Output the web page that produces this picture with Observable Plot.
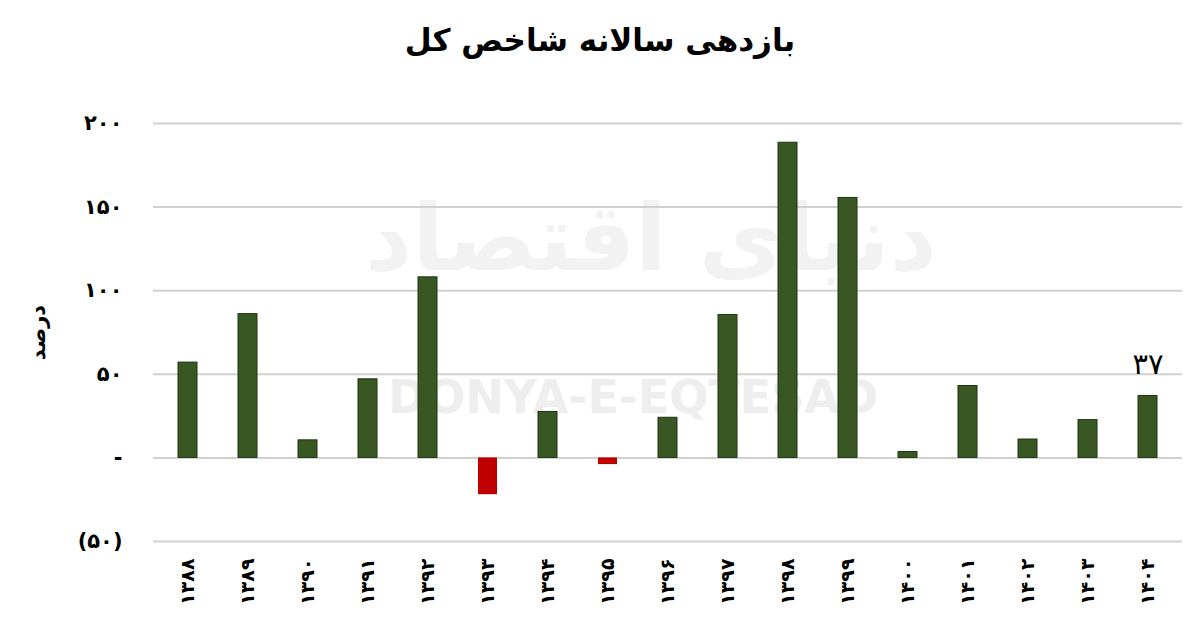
<!DOCTYPE html>
<html>
<head>
<meta charset="utf-8">
<script src="https://cdn.jsdelivr.net/npm/d3@7"></script>
<script src="https://cdn.jsdelivr.net/npm/@observablehq/plot@0.6"></script>
<style>
  html, body { margin: 0; padding: 0; background: #fff; }
  #wrap { position: relative; width: 1200px; height: 641px; overflow: hidden; font-family: "DejaVu Sans", sans-serif; }
  #title { position: absolute; left: 0; top: 22px; width: 1200px; text-align: center; font-weight: bold; font-size: 31px; color: #000; direction: rtl; }
  .wm { position: absolute; color: #eeeeee; font-weight: bold; white-space: nowrap; z-index: 0; }
  #wm1 { left: 388px; top: 370px; font-size: 46px; font-family: "DejaVu Sans", sans-serif; }
  #wm2 { left: 365px; top: 185px; font-size: 92px; direction: rtl; color: #f2f2f2; }
  #chart { position: absolute; left: 0; top: 90px; z-index: 1; }
  #chart svg { background: transparent !important; }
  g[aria-label="y-axis tick label"] text { font-weight: bold; font-size: 21px; }
  g[aria-label="x-axis tick label"] text { font-weight: bold; font-size: 19px; }
  g[aria-label="y-axis label"] text { font-weight: bold; font-size: 21px; }
</style>
</head>
<body>
<div id="wrap">
  <div id="title">بازدهی سالانه شاخص کل</div>
  <div class="wm" id="wm2">دنیای اقتصاد</div>
  <div class="wm" id="wm1">DONYA-E-EQTESAD</div>
  <div id="chart"></div>
</div>
<script>
const years = ["۱۳۸۸","۱۳۸۹","۱۳۹۰","۱۳۹۱","۱۳۹۲","۱۳۹۳","۱۳۹۴","۱۳۹۵","۱۳۹۶","۱۳۹۷","۱۳۹۸","۱۳۹۹","۱۴۰۰","۱۴۰۱","۱۴۰۲","۱۴۰۳","۱۴۰۴"];
const returns = [57, 86, 10.5, 47, 108, -22, 27.5, -4, 24, 85.5, 188.5, 155.5, 3.5, 43, 11, 22.6, 37];
const yTickValues = [-50, 0, 50, 100, 150, 200];
const yTickLabels = ["(۵۰)", "-", "۵۰", "۱۰۰", "۱۵۰", "۲۰۰"];
const labeledYears = ["۱۴۰۴"];

const toFa = s => String(s).replace(/\d/g, d => "۰۱۲۳۴۵۶۷۸۹"[d]);
const data = years.map((y, i) => ({year: y, value: returns[i]}));
const yFmt = v => yTickLabels[yTickValues.indexOf(v)];

const chart = Plot.plot({
  width: 1200,
  height: 551,
  marginLeft: 153,
  marginRight: 18,
  marginTop: 33,
  marginBottom: 100,
  style: {fontFamily: "DejaVu Sans, sans-serif", color: "#000", background: "transparent"},
  x: {domain: years, paddingInner: 0.68, paddingOuter: 0.34, label: null},
  y: {domain: [-50, 200], label: "درصد"},
  marks: [
    Plot.ruleY(yTickValues, {stroke: "#d0d0d0", strokeWidth: 2}),
    Plot.barY(data, {x: "year", y: "value",
      fill: d => d.value < 0 ? "#c00000" : "#385723",
      stroke: d => d.value < 0 ? "none" : "#1f3512", strokeWidth: 1}),
    Plot.text(data.filter(d => labeledYears.includes(d.year)), {x: "year", y: "value", text: d => toFa(Math.round(d.value)),
      dy: -31, fontSize: 29, fill: "#000"}),
    Plot.axisX({tickSize: 0, tickPadding: 17, tickRotate: -90, label: null}),
    Plot.axisY({ticks: yTickValues, tickFormat: yFmt, tickSize: 0, tickPadding: 31,
      label: "درصد", labelAnchor: "center", labelOffset: 123, labelArrow: "none"})
  ]
});
document.getElementById("chart").appendChild(chart);
</script>
</body>
</html>
